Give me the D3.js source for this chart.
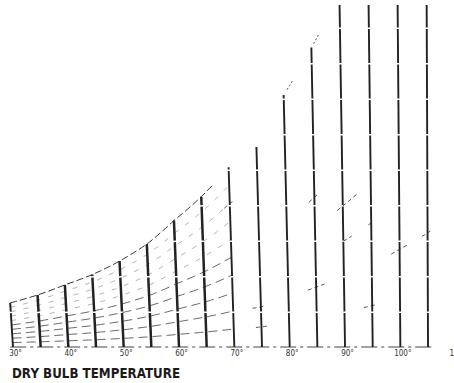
<!DOCTYPE html>
<html>
<head>
<meta charset="utf-8">
<script src="https://cdn.jsdelivr.net/npm/d3@7/dist/d3.min.js"></script>
<style>
  html, body { margin: 0; padding: 0; background: #fff; }
  svg { display: block; }
</style>
</head>
<body>
<svg id="chart" width="454" height="383"></svg>
<script>
// Dry-bulb temperature lines (°F) and the humidity ratio at saturation (lb/lb dry air)
const dryBulb    = [30, 35, 40, 45, 50, 55, 60, 65, 70, 75, 80, 85, 90, 95, 100, 105];
const saturation = [0.0039, 0.0046, 0.0055, 0.0064, 0.0076, 0.0091, 0.0112, 0.0133,
                    0.0159, 0.0177, 0.0223, 0.0265, 0.0312, 0.0366, 0.0432, 0.0505];

// Relative-humidity curves drawn across the cool end of the chart
const rhLevels = [0.1, 0.2, 0.3, 0.4, 0.5, 0.6, 0.7, 0.8, 0.9];
const rhRange  = [30, 70];

// Short surviving pieces of the RH curves on the warm side: [rh, from °F, to °F]
const rhPieces = [
  [0.1, 74.0, 76.5], [0.2, 73.5, 75.5], [0.2, 83.5, 86.5], [0.1, 93.5, 95.5],
  [0.2, 98.5, 101.5], [0.2, 104.0, 105.5], [0.3, 90.0, 91.5], [0.3, 94.5, 95.5],
  [0.4, 89.0, 92.5], [0.5, 84.0, 85.5], [0.8, 69.0, 70.5]
];

// Saturation curve: drawn along the cool end, then only short pieces near the warm tops
const satRange  = [30, 67];
const satPieces = [[80.6, 81.6], [85.4, 86.6]];

// Axis tick labels
const tickTemps = [30, 40, 50, 60, 70, 80, 90, 100, 110];
const axisTitle = "DRY BULB TEMPERATURE";

const svg = d3.select("#chart");
const W = 454, H = 383;
const base = 347, plotTop = 5;

const x = d3.scaleLinear().domain([30, 110]).range([13, 455.7]);
const y = d3.scaleLinear().domain([0, 0.03]).range([base, base - 0.03 * 11300]);

// smooth saturation lookup (interpolated in log space between the tabulated lines)
const lnSat = d3.scaleLinear().domain(dryBulb).range(saturation.map(Math.log));
const satAt = t => Math.exp(lnSat(t));

// dry-bulb lines lean slightly, converging toward the warm end
const lean = t => 0.0008 * (110 - t);
const px = (t, w) => x(t) - lean(t) * (base - y(w));
const py = (t, w) => y(w);

svg.append("defs").append("clipPath").attr("id", "plot")
  .append("rect").attr("x", 0).attr("y", plotTop).attr("width", W).attr("height", base - plotTop + 2);

const plot = svg.append("g").attr("clip-path", "url(#plot)");

const line = d3.line().x(d => px(d[0], d[1])).y(d => py(d[0], d[1]));
const smooth = d3.line().x(d => px(d[0], d[1])).y(d => py(d[0], d[1])).curve(d3.curveMonotoneX);

// baseline
plot.append("path")
  .attr("d", line([[29.5, 0], [106, 0]]))
  .attr("fill", "none").attr("stroke", "#444").attr("stroke-width", 1.2)
  .attr("stroke-dasharray", "16,4,3,4");

// RH curves (the wetter ones print fainter)
rhLevels.forEach(rh => {
  const pts = d3.range(rhRange[0], rhRange[1] + 0.01, 1).map(t => [t, rh * satAt(t)]);
  plot.append("path")
    .attr("d", smooth(pts))
    .attr("fill", "none").attr("stroke", "#444").attr("stroke-width", 1)
    .attr("stroke-opacity", rh <= 0.5 ? 0.8 : 0.4)
    .attr("stroke-dasharray", rh <= 0.5 ? "9,5" : "5,8");
});

rhPieces.forEach(([rh, t0, t1]) => {
  const pts = d3.range(t0, t1 + 0.01, 0.5).map(t => [t, rh * satAt(t)]);
  plot.append("path")
    .attr("d", line(pts))
    .attr("fill", "none").attr("stroke", "#555").attr("stroke-width", 1)
    .attr("stroke-dasharray", "4,3");
});

// saturation curve
const satPts = d3.range(satRange[0], satRange[1] + 0.01, 0.5).map(t => [t, satAt(t)]);
plot.append("path")
  .attr("d", smooth(satPts))
  .attr("fill", "none").attr("stroke", "#333").attr("stroke-width", 1)
  .attr("stroke-dasharray", "7,3");

satPieces.forEach(([t0, t1]) => {
  const pts = d3.range(t0, t1 + 0.01, 0.25).map(t => [t, satAt(t)]);
  plot.append("path")
    .attr("d", line(pts))
    .attr("fill", "none").attr("stroke", "#555").attr("stroke-width", 1)
    .attr("stroke-dasharray", "2,2");
});

// dry-bulb lines, each ending on the saturation curve
plot.selectAll("path.db")
  .data(dryBulb.map((t, i) => ({ t, s: saturation[i] })))
  .join("path")
  .attr("class", "db")
  .attr("d", d => line([[d.t, 0], [d.t, d.s]]))
  .attr("fill", "none")
  .attr("stroke", "#222")
  .attr("stroke-width", d => (d.t > 30 && d.t < 70) ? 2.5 : 1.9)
  .attr("stroke-dasharray", "34,1.5");

// temperature axis labels
const axis = d3.axisBottom(x)
  .tickValues(tickTemps)
  .tickFormat(d => d + "°")
  .tickSize(0)
  .tickPadding(3.5);

const ax = svg.append("g")
  .attr("transform", `translate(2,${base})`)
  .call(axis);
ax.select(".domain").remove();
ax.selectAll("text")
  .attr("font-family", "'DejaVu Sans Condensed', 'DejaVu Sans', sans-serif")
  .attr("font-size", 8)
  .attr("fill", "#333");

// axis title
svg.append("text")
  .attr("x", 12).attr("y", 378)
  .attr("font-family", "'DejaVu Sans', sans-serif")
  .attr("font-weight", "bold")
  .attr("font-size", 14)
  .attr("fill", "#1a1a1a")
  .attr("textLength", 168)
  .attr("lengthAdjust", "spacingAndGlyphs")
  .text(axisTitle);
</script>
</body>
</html>
